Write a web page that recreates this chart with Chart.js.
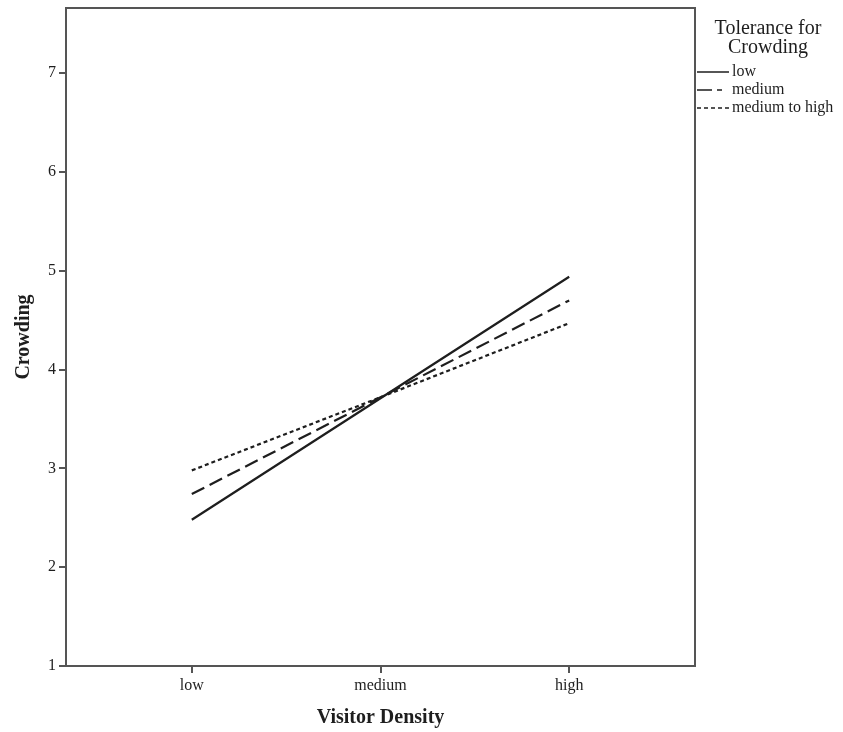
<!DOCTYPE html>
<html>
<head>
<meta charset="utf-8">
<script src="https://cdn.jsdelivr.net/npm/chart.js@4/dist/chart.umd.min.js"></script>
<style>
  html, body { margin: 0; padding: 0; background: #fff; }
  #wrap { width: 843px; height: 732px; }
</style>
</head>
<body>
<div id="wrap"><canvas id="chart" width="843" height="732"></canvas></div>
<script>
// ── Data ──────────────────────────────────────────────
const densityLevels = ['low', 'medium', 'high']
const yTicks        = [1, 2, 3, 4, 5, 6, 7]
const toleranceLow     = [2.48, 3.71, 4.94]
const toleranceMedium  = [2.74, 3.72, 4.70]
const toleranceMedHigh = [2.98, 3.72, 4.47]

const SERIF = '"Liberation Serif", "DejaVu Serif", serif'
const INK   = '#1e1e1e'
const FRAME = '#555'

const toPoints = vals => vals.map((v, i) => ({ x: i + 1, y: v }))

// ── Plot frame + legend ───────────────────────────────
const framePlugin = {
  id: 'frame',
  afterDraw(chart) {
    const { ctx, chartArea: a } = chart
    ctx.save()
    ctx.strokeStyle = FRAME
    ctx.lineWidth = 2
    ctx.strokeRect(a.left, a.top, a.right - a.left, a.bottom - a.top)

    // legend block to the right of the plot
    const cx = 768
    ctx.fillStyle = INK
    ctx.textAlign = 'center'
    ctx.textBaseline = 'middle'
    ctx.font = '20px ' + SERIF
    ctx.fillText('Tolerance for', cx, 29)
    ctx.fillText('Crowding', cx, 48)

    ctx.font = '16px ' + SERIF
    ctx.textAlign = 'left'
    chart.data.datasets.forEach((ds, i) => {
      const y = 72 + i * 18
      ctx.strokeStyle = INK
      ctx.lineWidth = 1.5
      ctx.setLineDash(ds.legendDash || ds.borderDash || [])
      ctx.beginPath()
      ctx.moveTo(697, y)
      ctx.lineTo(729, y)
      ctx.stroke()
      ctx.setLineDash([])
      ctx.fillText(ds.label, 732, y)
    })
    ctx.restore()
  }
}

// keep the plot box fixed: no extra room reserved for edge tick labels
const noEdgePadding = s => {
  s.paddingTop = 0
  s.paddingBottom = 0
  s.paddingLeft = 0
  s.paddingRight = 0
}

// ── Chart ─────────────────────────────────────────────
const lineStyle = { borderColor: INK, borderWidth: 2.2, pointRadius: 0, fill: false, tension: 0 }

new Chart(document.getElementById('chart').getContext('2d'), {
  type: 'line',
  data: {
    datasets: [
      { label: 'low',            data: toPoints(toleranceLow),     ...lineStyle, borderDash: [] },
      { label: 'medium',         data: toPoints(toleranceMedium),  ...lineStyle, borderDash: [14, 6], legendDash: [15, 5, 5, 8] },
      { label: 'medium to high', data: toPoints(toleranceMedHigh), ...lineStyle, borderDash: [4, 3] }
    ]
  },
  options: {
    responsive: false,
    animation: false,
    layout: { padding: { top: 8, right: 148, left: 0, bottom: 0 } },
    plugins: { legend: { display: false }, tooltip: { enabled: false } },
    scales: {
      x: {
        type: 'linear',
        min: 1 / 3,
        max: 11 / 3,
        afterBuildTicks: s => { s.ticks = densityLevels.map((_, i) => ({ value: i + 1 })) },
        afterFit: s => { s.height = 66; noEdgePadding(s) },
        ticks: {
          color: INK,
          padding: 3,
          font: { family: SERIF, size: 16 },
          callback: v => densityLevels[v - 1]
        },
        grid: { drawOnChartArea: false, drawTicks: true, tickLength: 7, color: FRAME, lineWidth: 2 },
        border: { color: FRAME, width: 2 },
        title: {
          display: true,
          text: 'Visitor Density',
          color: INK,
          font: { family: SERIF, size: 20, weight: 'bold' },
          padding: { top: 0, bottom: 2 }
        }
      },
      y: {
        min: 1,
        max: 7.66,
        afterBuildTicks: s => { s.ticks = yTicks.map(v => ({ value: v })) },
        afterFit: s => { s.width = 66; noEdgePadding(s) },
        ticks: {
          color: INK,
          padding: 3,
          font: { family: SERIF, size: 16 }
        },
        grid: { drawOnChartArea: false, drawTicks: true, tickLength: 7, color: FRAME, lineWidth: 2 },
        border: { color: FRAME, width: 2 },
        title: {
          display: true,
          text: 'Crowding',
          color: INK,
          font: { family: SERIF, size: 20, weight: 'bold' },
          padding: { top: 12, bottom: 0 }
        }
      }
    }
  },
  plugins: [framePlugin]
})
</script>
</body>
</html>
